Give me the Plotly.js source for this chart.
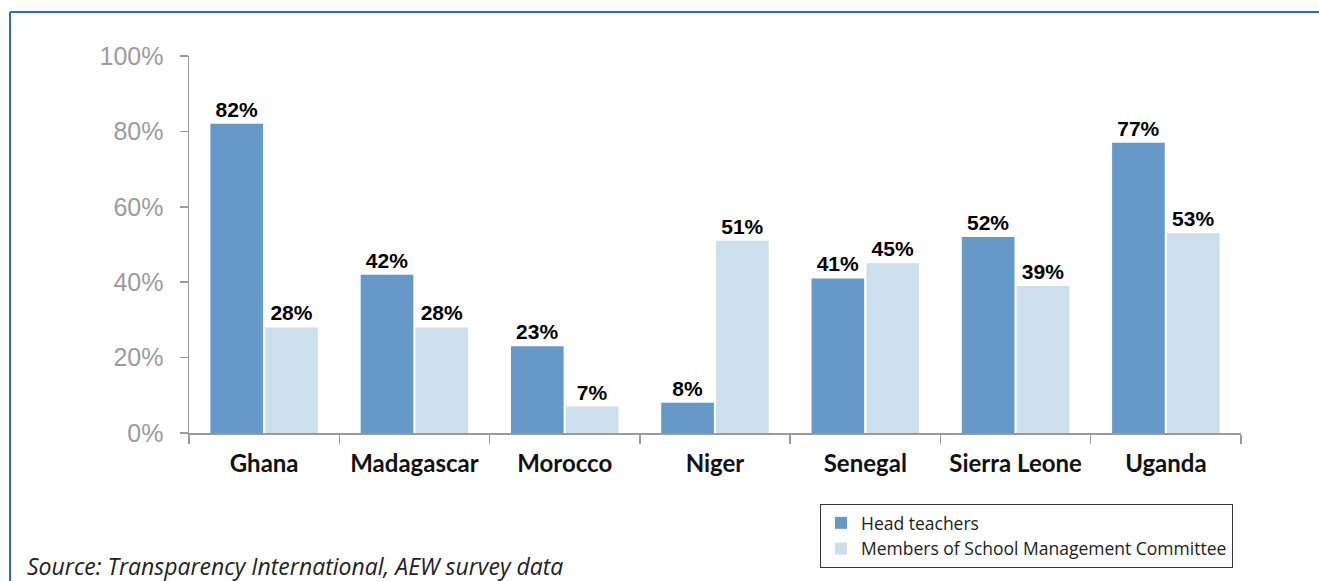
<!DOCTYPE html>
<html>
<head>
<meta charset="utf-8">
<script src="https://cdn.plot.ly/plotly-3.0.1.min.js"></script>
<style>
  html, body { margin: 0; padding: 0; background: #fff; }
  #chart { width: 1319px; height: 581px; }
</style>
</head>
<body>
<div id="chart"></div>
<script>
const countries = ["Ghana", "Madagascar", "Morocco", "Niger", "Senegal", "Sierra Leone", "Uganda"];
const headTeachers = [82, 42, 23, 8, 41, 52, 77];
const smcMembers = [28, 28, 7, 51, 45, 39, 53];
const seriesNames = ["Head teachers", "Members of School Management Committee"];
const yTickValues = [0, 20, 40, 60, 80, 100];
const sourceNote = "Source: Transparency International, AEW survey data";

const labelFont = { family: "Liberation Sans, Arial, sans-serif", size: 21, color: "#000000", weight: 700 };

const traces = [
  {
    type: "bar",
    name: seriesNames[0],
    x: countries,
    y: headTeachers,
    marker: { color: "#6699c7" },
    texttemplate: "%{y}%",
    textposition: "outside",
    textfont: labelFont,
    constraintext: "none",
    cliponaxis: false,
    hoverinfo: "x+y"
  },
  {
    type: "bar",
    name: seriesNames[1],
    x: countries,
    y: smcMembers,
    marker: { color: "#cddeec" },
    texttemplate: "%{y}%",
    textposition: "outside",
    textfont: labelFont,
    constraintext: "none",
    cliponaxis: false,
    hoverinfo: "x+y"
  }
];

// plot area in pixels: x 189..1241, y 56..433
const L = 189, R = 1241, T = 56, B = 433;
const px = v => (v - L) / (R - L);
const py = v => (B - v) / (B - T);

const layout = {
  width: 1319,
  height: 581,
  margin: { l: L, r: 1319 - R, t: T, b: 581 - B, pad: 0 },
  paper_bgcolor: "#ffffff",
  plot_bgcolor: "#ffffff",
  barmode: "group",
  bargap: 0.27,
  bargroupgap: 0.04,
  showlegend: true,
  legend: {
    x: px(820), xanchor: "left",
    y: py(504), yanchor: "top",
    bgcolor: "#ffffff",
    bordercolor: "#333333",
    borderwidth: 1,
    font: { family: "Open Sans, Lato, sans-serif", size: 17.5, color: "#222222" }
  },
  xaxis: {
    type: "category",
    showline: true,
    linecolor: "#9a9a9a",
    linewidth: 1.5,
    ticks: "outside",
    tickson: "boundaries",
    ticklen: 9,
    tickcolor: "#9a9a9a",
    tickwidth: 1.5,
    ticklabelstandoff: 9,
    tickfont: { family: "Lato, sans-serif", size: 24, color: "#111111", weight: 700 },
    showgrid: false,
    zeroline: false,
    fixedrange: true
  },
  yaxis: {
    range: [0, 100],
    tickvals: yTickValues,
    ticktext: yTickValues.map(v => v + "%"),
    showline: true,
    linecolor: "#9a9a9a",
    linewidth: 1.5,
    ticks: "outside",
    ticklen: 8,
    tickcolor: "#9a9a9a",
    tickwidth: 1.5,
    ticklabelstandoff: 11,
    tickfont: { family: "Liberation Sans, Arial, sans-serif", size: 25, color: "#9c9c9c" },
    showgrid: false,
    zeroline: false,
    fixedrange: true
  },
  shapes: [
    { type: "line", xref: "paper", yref: "paper", x0: px(10), x1: px(10), y0: py(12), y1: py(590),
      line: { color: "#2f6db3", width: 2 }, layer: "below" },
    { type: "line", xref: "paper", yref: "paper", x0: px(10), x1: px(1330), y0: py(12), y1: py(12),
      line: { color: "#2f6db3", width: 2 }, layer: "below" }
  ],
  annotations: [
    {
      xref: "paper", yref: "paper",
      x: px(25), xanchor: "left",
      y: py(566), yanchor: "middle",
      text: sourceNote,
      showarrow: false,
      font: { family: "Open Sans, Lato, sans-serif", size: 23, color: "#222222", style: "italic" }
    }
  ]
};

Plotly.newPlot("chart", traces, layout, { displayModeBar: false, staticPlot: true });
</script>
</body>
</html>
